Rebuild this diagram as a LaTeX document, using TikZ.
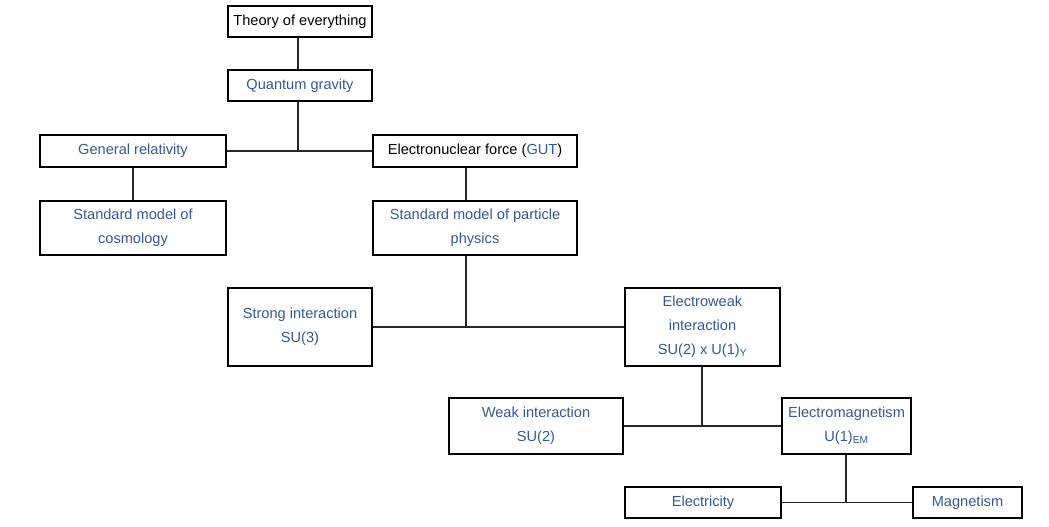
\documentclass[tikz,border=0pt]{standalone}
\usepackage{fontspec}
\setmainfont{Liberation Sans}
\definecolor{linkblue}{RGB}{54,86,156}
\definecolor{linegray}{RGB}{40,40,40}
\begin{document}
\begin{tikzpicture}[x=1pt,y=-1pt,
  box/.style={draw=black,line width=2.2pt,rectangle,inner sep=0pt,align=center,
    font=\fontsize{14.6}{24}\selectfont,text=linkblue},
  conn/.style={draw=linegray,line width=1.4pt}]
\useasboundingbox (0,0) rectangle (1049,527);
\node[box,text=black,minimum width=144pt,minimum height=31pt] (toe) at (300,21.5) {Theory of everything};
\node[box,minimum width=144pt,minimum height=31pt] (qg) at (300,85.5) {Quantum gravity};
\node[box,minimum width=186pt,minimum height=32pt] (gr) at (133,151) {General relativity};
\node[box,text=black,minimum width=204pt,minimum height=32pt] (en) at (475,151) {Electronuclear force ({\color{linkblue}GUT})};
\node[box,minimum width=186pt,minimum height=54pt] (smc) at (133,228) {Standard model of\\cosmology};
\node[box,minimum width=204pt,minimum height=54pt] (smpp) at (475,228) {Standard model of particle\\physics};
\node[box,minimum width=144pt,minimum height=78pt] (strong) at (300,327) {Strong interaction\\SU(3)};
\node[box,minimum width=155pt,minimum height=78pt] (ew) at (702.5,327) {Electroweak\\interaction\\SU(2) x U(1)\textsubscript{Y}};
\node[box,minimum width=174pt,minimum height=56pt] (weak) at (536,426) {Weak interaction\\SU(2)};
\node[box,minimum width=129pt,minimum height=56pt] (em) at (846.5,426) {Electromagnetism\\U(1)\textsubscript{EM}};
\node[box,minimum width=156pt,minimum height=31pt] (elec) at (703,502.5) {Electricity};
\node[box,minimum width=109pt,minimum height=31pt] (mag) at (967.5,502.5) {Magnetism};
% connectors
\coordinate (xa) at (298,0);
\coordinate (xb) at (466,0);
\coordinate (xc) at (702,0);
\coordinate (xd) at (846,0);
\draw[conn] (xa |- toe.south) -- (xa |- qg.north);
\draw[conn] (xa |- qg.south) -- (xa |- gr.east);
\draw[conn] (gr.east) -- (en.west);
\draw[conn] (gr.south) -- (smc.north);
\draw[conn] (xb |- en.south) -- (xb |- smpp.north);
\draw[conn] (xb |- smpp.south) -- (xb |- strong.east);
\draw[conn] (strong.east) -- (ew.west);
\draw[conn] (xc |- ew.south) -- (xc |- weak.east);
\draw[conn] (weak.east) -- (em.west);
\draw[conn] (xd |- em.south) -- (xd |- elec.east);
\draw[conn] (elec.east) -- (mag.west);
\end{tikzpicture}
\end{document}
